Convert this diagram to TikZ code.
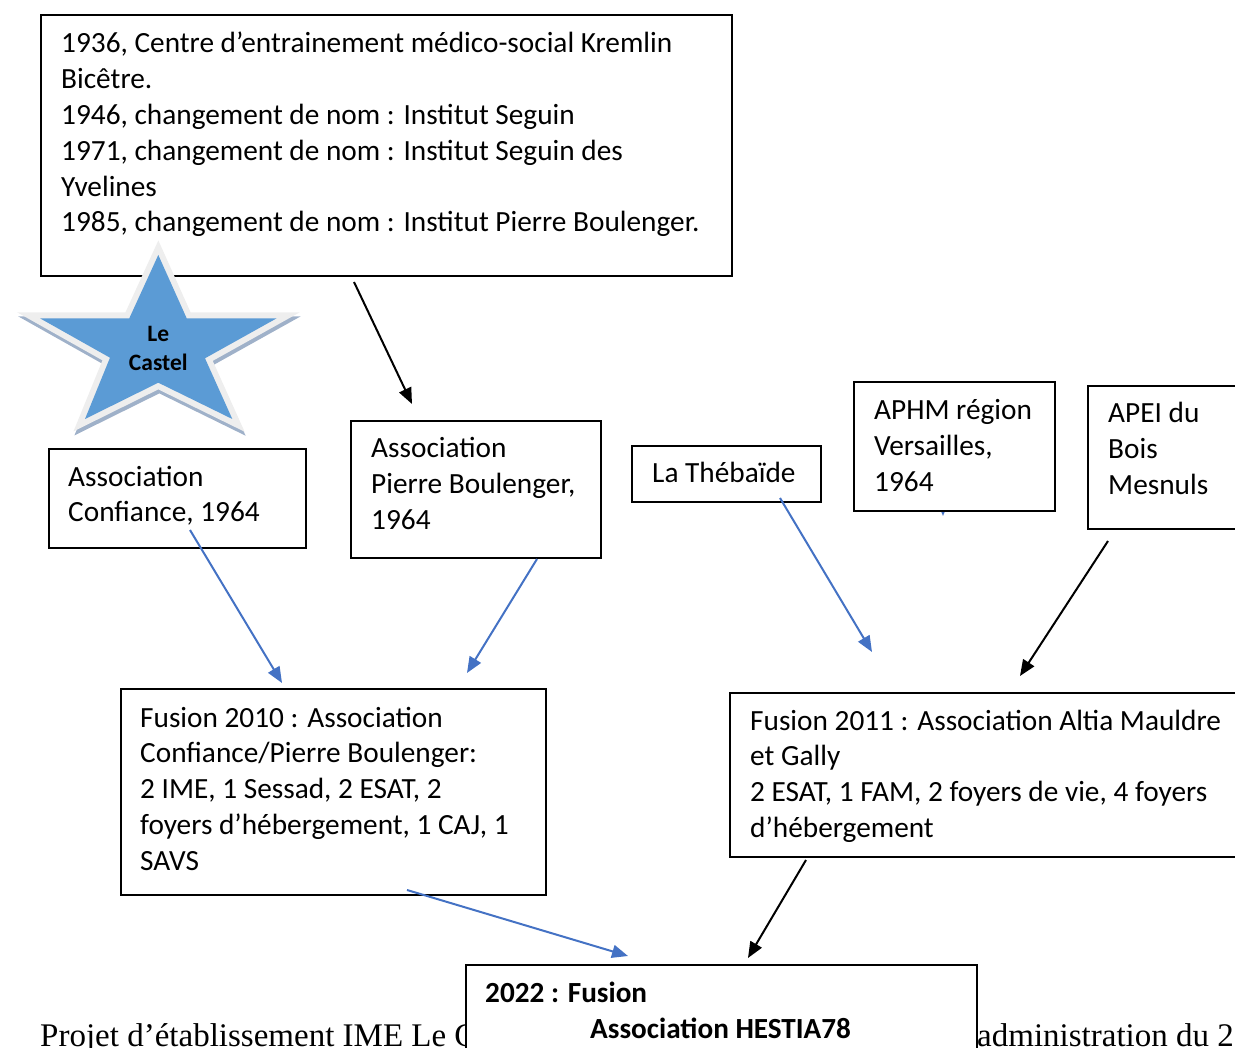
\documentclass[tikz,border=0pt]{standalone}
\usepackage{fontspec}
\setmainfont{Carlito}
\newfontfamily\tnr{Liberation Serif}
\usetikzlibrary{arrows.meta}
\definecolor{arrblue}{HTML}{4472C4}
\definecolor{starblue}{HTML}{5B9BD5}
\definecolor{starrim}{HTML}{EEEEEE}
\definecolor{starshadow}{HTML}{9FB1C9}
\newcommand{\lns}[1]{\begin{tabular}[t]{@{}l@{}}#1\end{tabular}}
\begin{document}
\begin{tikzpicture}[x=1pt,y=-1pt,
  box/.style={draw=black, line width=1.8pt, fill=white, inner sep=0pt, anchor=north west},
  txt/.style={anchor=base west, inner sep=0pt, font=\fontsize{29.3}{35.8}\selectfont},
  btxt/.style={anchor=base west, inner sep=0pt, font=\bfseries\fontsize{29.2}{35.8}\selectfont},
  blk/.style={draw=black, line width=2pt, -{Triangle[length=16pt,width=13pt]}},
  blu/.style={draw=arrblue, line width=2pt, -{Triangle[length=16pt,width=13pt]}},
  starpath/.style={line join=miter, line width=12pt}]
\useasboundingbox (0,0) rectangle (1235,1048);
\begin{scope}
\clip (0,0) rectangle (1235,1048);
% top history box
\node[box, minimum width=691pt, minimum height=261pt] (hist) at (40,14) {};
\node[txt] (histT) at (61,53) {\lns{1936, Centre d’entrainement médico-social Kremlin\\Bicêtre.\\1946, changement de nom : Institut Seguin\\1971, changement de nom : Institut Seguin des\\Yvelines\\1985, changement de nom : Institut Pierre Boulenger.}};
% arrow from history box
\coordinate (a1s) at (354,282);
\coordinate (a1e) at (412,404);
\draw[blk] (a1s) -- (a1e);
% star
\def\starpts{(158.3,255) -- (186.7,318.3) -- (276.7,318.3) -- (205,358.3) -- (232.3,419) -- (158.3,382.7) -- (85,419) -- (110,357.7) -- (40,318.3) -- (129.3,318.3) -- cycle}
\begin{scope}[shift={(1,4)}]
\draw[starpath, draw=starshadow] \starpts;
\end{scope}
\draw[starpath, draw=starrim] \starpts;
\fill[starblue] \starpts;
\node[font=\bfseries\fontsize{23.5}{29}\selectfont, align=center, inner sep=0pt] (castel) at (158.3,348) {Le\\Castel};
% small boxes
\node[box, minimum width=257pt, minimum height=99pt] (conf) at (48,448) {};
\node[txt] (confT) at (68,486) {\lns{Association\\Confiance, 1964}};
\node[box, minimum width=250pt, minimum height=137pt] (apb) at (350,420) {};
\node[txt] (apbT) at (371,458) {\lns{Association\\Pierre Boulenger,\\1964}};
\node[box, minimum width=189pt, minimum height=56pt] (theb) at (631,445) {};
\node[txt] (thebT) at (652,483) {La Thébaïde};
% hidden arrow under APHM box
\coordinate (a5s) at (943,496);
\coordinate (a5e) at (943,516);
\draw[blu] (a5s) -- (a5e);
\node[box, minimum width=201pt, minimum height=129pt] (aphm) at (853,381) {};
\node[txt] (aphmT) at (874,420) {\lns{APHM région\\Versailles,\\1964}};
\node[box, minimum width=170pt, minimum height=143pt] (apei) at (1087,385) {};
\node[txt] (apeiT) at (1108,423) {\lns{APEI du\\Bois\\Mesnuls}};
% fusion boxes
\node[box, minimum width=425pt, minimum height=206pt] (f2010) at (120,688) {};
\node[txt] (f2010T) at (140,727) {\lns{Fusion 2010 : Association\\Confiance/Pierre Boulenger:\\2 IME, 1 Sessad, 2 ESAT, 2\\foyers d’hébergement, 1 CAJ, 1\\SAVS}};
\node[box, minimum width=520pt, minimum height=164pt] (f2011) at (729,692) {};
\node[txt] (f2011T) at (750,730) {\lns{Fusion 2011 : Association Altia Mauldre\\et Gally\\2 ESAT, 1 FAM, 2 foyers de vie, 4 foyers\\d’hébergement}};
% arrows
\coordinate (a2s) at (190,530);
\coordinate (a2e) at (282,683);
\draw[blu] (a2s) -- (a2e);
\coordinate (a3s) at (537,559);
\coordinate (a3e) at (467,673);
\draw[blu] (a3s) -- (a3e);
\coordinate (a4s) at (780,498);
\coordinate (a4e) at (872,652);
\draw[blu] (a4s) -- (a4e);
\coordinate (a6s) at (1108,541);
\coordinate (a6e) at (1020,676);
\draw[blk] (a6s) -- (a6e);
% footer text
\node[anchor=base west, inner sep=0pt, font=\tnr\fontsize{33}{36}\selectfont] (footL) at (40,1046) {Projet d’établissement IME Le Castel};
\node[anchor=base west, inner sep=0pt, font=\tnr\fontsize{33}{36}\selectfont] (footR) at (977,1046) {administration du 22};
% final box
\node[box, minimum width=511pt, minimum height=100pt] (f2022) at (465,964) {};
\node[btxt] (f2022T) at (485,1002) {2022 : Fusion};
\node[btxt] (f2022U) at (590,1038) {Association HESTIA78};
\coordinate (a7s) at (407,890);
\coordinate (a7e) at (628,956);
\draw[blu] (a7s) -- (a7e);
\coordinate (a8s) at (806,860);
\coordinate (a8e) at (748,958);
\draw[blk] (a8s) -- (a8e);
\end{scope}
\end{tikzpicture}
\end{document}
